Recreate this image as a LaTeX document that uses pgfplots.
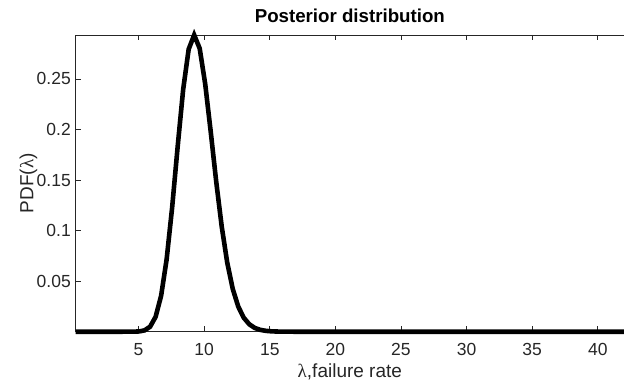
\documentclass[border=0pt]{standalone}
\usepackage{pgfplots}
\pgfplotsset{compat=1.18}
\usepackage{fontspec}
\setmainfont{Liberation Sans}
\newfontfamily\serifgreek{Liberation Serif}
\definecolor{axisgray}{RGB}{38,38,38}
\begin{document}
\begin{tikzpicture}
\begin{axis}[
  at={(75.7bp,51.3bp)}, anchor=south west,
  scale only axis, width=548.3bp, height=296.7bp,
  xmin=0.21, xmax=42.0, ymin=0, ymax=0.2935,
  axis x line=box, axis y line=left,
  axis line style={-, draw=axisgray, line width=0.6bp},
  tick align=inside,
  major tick length=5.5bp,
  tick style={draw=axisgray, line width=0.6bp},
  xtick={5,10,15,20,25,30,35,40},
  xticklabels={5,10,15,20,25,30,35,40},
  ytick={0.05,0.1,0.15,0.2,0.25},
  yticklabels={0.05,0.1,0.15,0.2,0.25},
  xticklabel style={anchor=base, inner sep=0pt, yshift=-23.3bp, font=\fontsize{17.5bp}{20bp}\selectfont, text=axisgray},
  yticklabel style={anchor=east, inner sep=0pt, xshift=-4.7bp, font=\fontsize{17.5bp}{20bp}\selectfont, text=axisgray},
  xlabel={{\serifgreek λ},failure rate},
  xlabel style={at={([yshift=-45.8bp]axis description cs:0.5,0)}, anchor=base, inner sep=0pt, font=\fontsize{19bp}{22bp}\selectfont, text=axisgray},
  ylabel={PDF({\serifgreek λ})},
  ylabel style={at={([xshift=-42.4bp]axis description cs:0,0.5)}, anchor=base, inner sep=0pt, font=\fontsize{19bp}{22bp}\selectfont, text=axisgray},
  title={Posterior distribution},
  title style={at={([yshift=6.7bp]axis description cs:0.5,1)}, anchor=base, inner sep=0pt, font=\fontsize{18.7bp}{22bp}\selectfont\bfseries, text=black},
  clip=false,
]
\addplot[black, line width=4.6bp] coordinates {
(0.21,0) (0.42,0) (2.1,0) (3.78,0) (4.2,0.0000039) (4.62,0.000039) (5.04,0.000267)
(5.46,0.00132) (5.88,0.00495) (6.30,0.0147) (6.72,0.0355) (7.14,0.0715)
(7.56,0.1228) (7.98,0.1829) (8.40,0.2395) (8.82,0.2794) (9.24,0.2935)
(9.66,0.2802) (10.08,0.2451) (10.50,0.1979) (10.92,0.1484) (11.34,0.1039)
(11.76,0.0683) (12.18,0.0423) (12.60,0.0248) (13.02,0.0138) (13.44,0.00734)
(13.86,0.00372) (14.28,0.00181) (14.70,0.000846) (15.12,0.00038) (15.54,0.000165)
(15.96,0.00007) (16.38,0.00003) (16.80,0) (42.0,0)
};
\end{axis}
\pgfresetboundingbox
\useasboundingbox (0,0) rectangle (624bp,383bp);
\end{tikzpicture}
\end{document}
